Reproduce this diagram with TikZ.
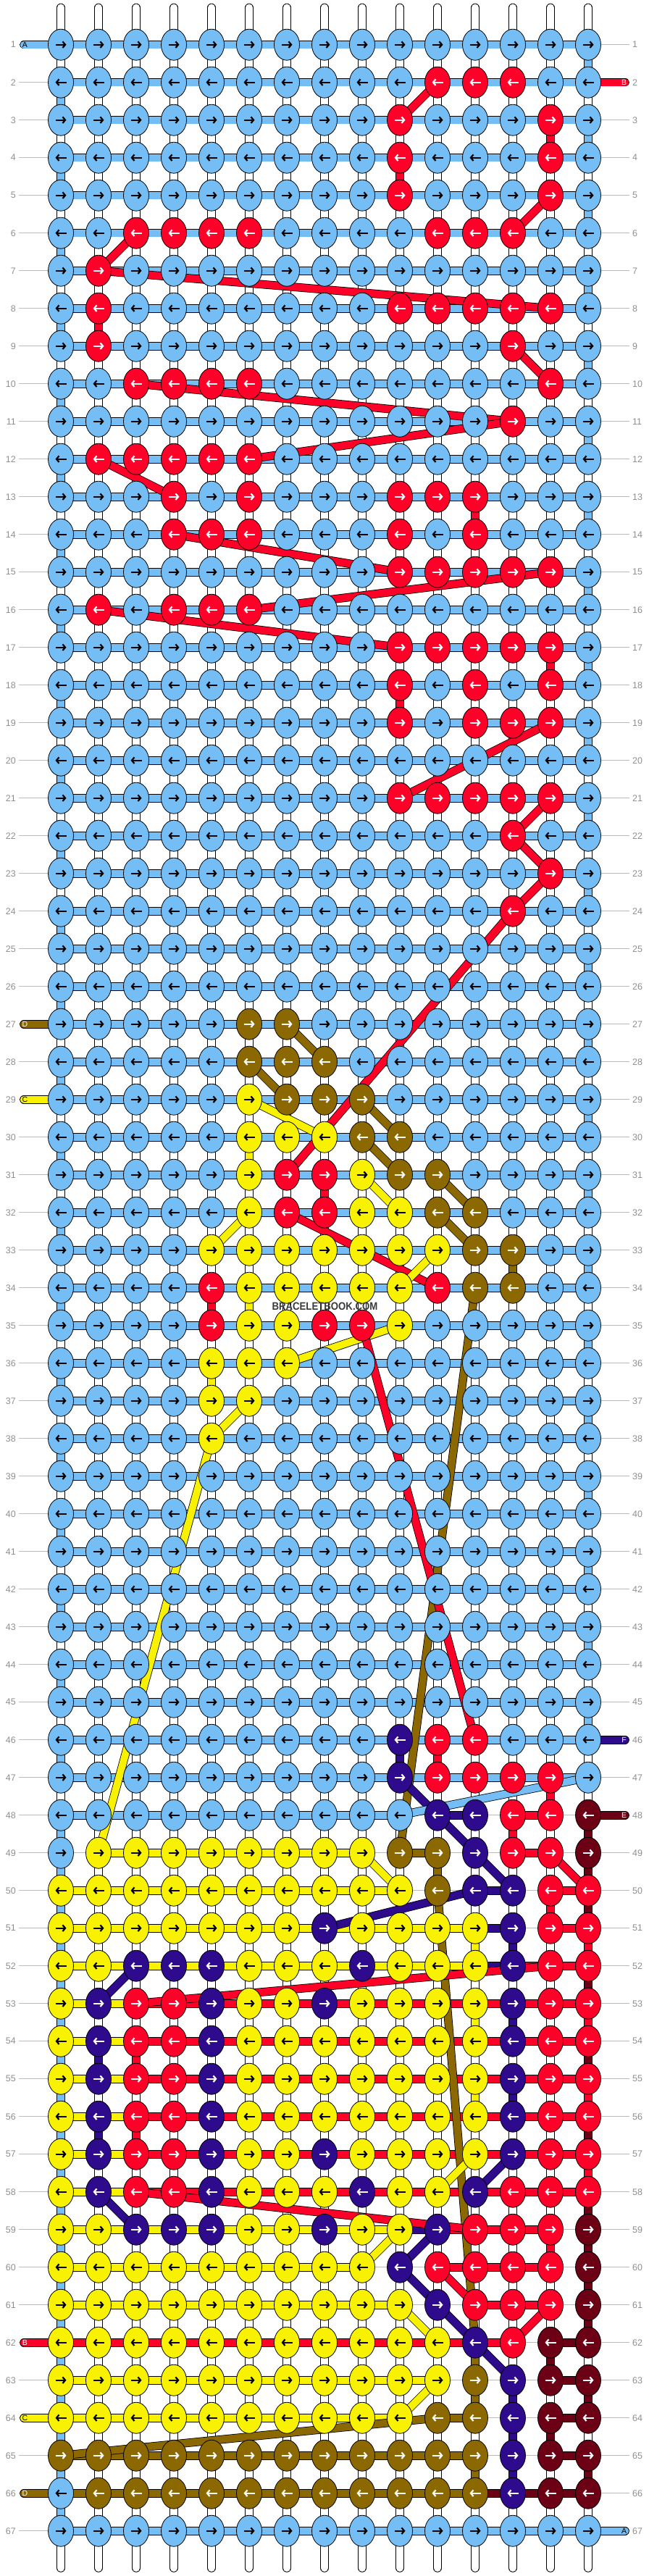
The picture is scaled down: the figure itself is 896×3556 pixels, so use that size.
\documentclass[tikz,border=0pt]{standalone}
\usepackage{fontspec}
\setmainfont{Liberation Sans}
\newfontfamily\markfont[FakeStretch=0.88]{Liberation Sans}
\usetikzlibrary{arrows.meta,shapes.geometric}

% thread colours
\definecolor{kL}{HTML}{74BEF5}
\definecolor{kR}{HTML}{FF0028}
\definecolor{kN}{HTML}{8C6800}
\definecolor{kY}{HTML}{F8F200}
\definecolor{kP}{HTML}{2E0A8C}
\definecolor{kM}{HTML}{6C0014}
\definecolor{kW}{HTML}{FFFFFF}
% arrow colours on each knot colour
\colorlet{aL}{black}
\colorlet{aY}{black}
\colorlet{aR}{white}
\colorlet{aN}{white}
\colorlet{aP}{white}
\colorlet{aM}{white}
\definecolor{numgray}{HTML}{8F8F8F}
\definecolor{linegray}{HTML}{BBBBBB}
\definecolor{markgray}{HTML}{3A3A3A}

\pgfdeclarelayer{guide}
\pgfdeclarelayer{threads}
\pgfdeclarelayer{cross}
\pgfsetlayers{guide,threads,cross,main}

\tikzset{
  knot/.style={ellipse, draw=black, line width=0.8pt, minimum width=35pt, minimum height=43pt, inner sep=0pt},
  knotarrow/.style={-{Straight Barb[length=3.6pt,width=8.6pt]}, line width=2.2pt},
  strand/.style={draw=black, line width=0.8pt, double=#1, double distance=10pt},
  rowno/.style={font=\fontsize{12.5}{12.5}\selectfont, text=numgray, inner sep=0pt},
  tailtext/.style={font=\fontsize{10.5}{10.5}\selectfont, inner sep=0pt},
  guide/.style={draw=linegray, line width=1.2pt}
}

\newcount\kcol
\makeatletter
% one row of knots: row, colours
\newcommand\knotrow[2]{%
  \kcol=0\relax
  \edef\kseq{#2}%
  \expandafter\@tfor\expandafter\kch\expandafter:\expandafter=\kseq\do{%
    \advance\kcol by 1\relax
    \edef\kc{\the\kcol}%
    \node[knot, fill=k\kch] (k-#1-\kc) at ({84+52*(\kc-1)}, {61.7+52*(#1-1)}) {};
    \ifodd#1\relax
      \draw[knotarrow, color=a\kch] ([xshift=-7.5pt]k-#1-\kc.center) -- ([xshift=7.5pt]k-#1-\kc.center);
    \else
      \draw[knotarrow, color=a\kch] ([xshift=7.5pt]k-#1-\kc.center) -- ([xshift=-7.5pt]k-#1-\kc.center);
    \fi}}
% threads between neighbours in a row: row, colours (- for none)
\newcommand\knotbars[2]{%
  \kcol=0\relax
  \edef\kseq{#2}%
  \expandafter\@tfor\expandafter\kch\expandafter:\expandafter=\kseq\do{%
    \advance\kcol by 1\relax
    \edef\kc{\the\kcol}%
    \pgfmathtruncatemacro\kn{\kc+1}%
    \if\kch-\else
      \draw[strand=k\kch] (k-#1-\kc.center) -- (k-#1-\kn.center);
    \fi}}
% threads from a row down to the next one
\newcommand\knotlinks[2]{%
  \pgfmathtruncatemacro\rn{#1+1}%
  \kcol=0\relax
  \edef\kseq{#2}%
  \expandafter\@tfor\expandafter\kch\expandafter:\expandafter=\kseq\do{%
    \advance\kcol by 1\relax
    \edef\kc{\the\kcol}%
    \draw[strand=k\kch] (k-#1-\kc.center) -- (k-\rn-\kc.center);}}
\makeatother

\begin{document}
\begin{tikzpicture}[x=1pt, y=-1pt]
  \useasboundingbox (0,0) rectangle (896,3556);

  % Knots
  \foreach \r/\ks in {
    1/LLLLLLLLLLLLLLL, 2/LLLLLLLLLLRRRLL, 3/LLLLLLLLLRLLLRL, 4/LLLLLLLLLRLLLRL,
    5/LLLLLLLLLRLLLRL, 6/LLRRRRLLLLRRRLL, 7/LRLLLLLLLLLLLLL, 8/LRLLLLLLLRRRRRL,
    9/LRLLLLLLLLLLRLL, 10/LLRRRRLLLLLLLRL, 11/LLLLLLLLLLLLRLL, 12/LRRRRRLLLLLLLLL,
    13/LLLRLRLLLRRRLLL, 14/LLLRRRLLLRLRLLL, 15/LLLLLLLLLRRRRRL, 16/LRLRRRLLLLLLLLL,
    17/LLLLLLLLLRRRRRL, 18/LLLLLLLLLRLRLRL, 19/LLLLLLLLLRLRRRL, 20/LLLLLLLLLLLLLLL,
    21/LLLLLLLLLRRRRRL, 22/LLLLLLLLLLLLRLL, 23/LLLLLLLLLLLLLRL, 24/LLLLLLLLLLLLRLL,
    25/LLLLLLLLLLLLLLL, 26/LLLLLLLLLLLLLLL, 27/LLLLLNNLLLLLLLL, 28/LLLLLNNNLLLLLLL,
    29/LLLLLYNNNLLLLLL, 30/LLLLLYYYNNLLLLL, 31/LLLLLYRRYNNLLLL, 32/LLLLLYRRYYNNLLL,
    33/LLLLYYYYYYYNNLL, 34/LLLLRYYYYYRNNLL, 35/LLLLRYYRRYLLLLL, 36/LLLLYYYLLLLLLLL,
    37/LLLLYYLLLLLLLLL, 38/LLLLYLLLLLLLLLL, 39/LLLLLLLLLLLLLLL, 40/LLLLLLLLLLLLLLL,
    41/LLLLLLLLLLLLLLL, 42/LLLLLLLLLLLLLLL, 43/LLLLLLLLLLLLLLL, 44/LLLLLLLLLLLLLLL,
    45/LLLLLLLLLLLLLLL, 46/LLLLLLLLLPRRLLL, 47/LLLLLLLLLPRRRRL, 48/LLLLLLLLLLPPRRM,
    49/LYYYYYYYYNNPRRM, 50/YYYYYYYYYYNPPRR, 51/YYYYYYYPYYYYPRR, 52/YYPPPYYYPYYYPRR,
    53/YPRRPYYPYYYYPRR, 54/YPRRPYYYYYYYPRR, 55/YPRRPYYYYYYYPRR, 56/YPRRPYYYYYYYPRR,
    57/YPRRPYYPYYYYPRR, 58/YPRRPYYYPYYPRRR, 59/YYPPPYYPYYPRRRM, 60/YYYYYYYYYPRRRRM,
    61/YYYYYYYYYYPRRRM, 62/YYYYYYYYYYYPRMM, 63/YYYYYYYYYYYNPMM, 64/YYYYYYYYYYNNPMM,
    65/NNNNNNNNNNNNPMM, 66/LNNNNNNNNNNNPMM, 67/LLLLLLLLLLLLLLL} {
    \knotrow{\r}{\ks}
  }

  \node[font=\markfont\bfseries\fontsize{15}{15}\selectfont, text=markgray, inner sep=0pt] (mark) at (448.5,1803.5) {BRACELETBOOK.COM};

  % Row numbers and guide lines
  \begin{pgfonlayer}{guide}
    \foreach \r in {1,...,67} {
      \node[rowno, anchor=east] (ln-\r) at (22, {61.7+52*(\r-1)}) {\r};
      \node[rowno, anchor=west] (rn-\r) at (873, {61.7+52*(\r-1)}) {\r};
      \draw[guide] ([xshift=4pt]ln-\r.east) -- ([xshift=-4pt]rn-\r.west);
    }
  \end{pgfonlayer}

  \begin{pgfonlayer}{threads}
    % Loose ends at top and bottom
    \foreach \c in {1,...,15} {
      \coordinate (top-\c) at ({84+52*(\c-1)}, 10.5);
      \coordinate (bot-\c) at ({84+52*(\c-1)}, 3545);
      \draw[strand=white, line cap=round] (top-\c) -- (k-1-\c.center);
      \draw[strand=white, line cap=round] (k-67-\c.center) -- (bot-\c);
    }

    % Threads along the rows
    \foreach \r in {1,...,47} {
      \knotbars{\r}{LLLLLLLLLLLLLL}
    }
    \foreach \r/\ks in {
      48/LLLLLLLLL-P-R-, 49/-YYYYYYY-N--R-, 50/YYYYYYYYY--P-R, 51/YYYYYYYYYYYP-R,
      52/YYYYYYYYYYYPRR, 53/YYRRRRRRRRRRRR, 54/YYRRRRRRRRRRRR, 55/YYRRRRRRRRRRRR,
      56/YYRRRRRRRRRRRR, 57/YYRRRRRRRRRRRR, 58/YYRRRRRRRRRRRR, 59/YYYYYYYYYPRRR-,
      60/YYYYYYYY--RRR-, 61/YYYYYYYYY--RR-, 62/RRRRRRRRRRRR-M, 63/YYYYYYYYYY---M,
      64/YYYYYYYYY-N--M, 65/NNNNNNNNNNN--M, 66/NNNNNNNNNNNMMM, 67/LLLLLLLLLLLLLL} {
      \knotbars{\r}{\ks}
    }

    % Threads between the rows
    \foreach \r/\ks in {
      1/WWWWWWWWWWWWWWL, 2/LWWWWWWWWWWWWWW, 3/WWWWWWWWWWWWWRL, 4/LWWWWWWWWRWWWWW,
      5/WWWWWWWWWWWWWWL, 6/LWWWWWWWWWWWWWW, 7/WWWWWWWWWWWWWWL, 8/LRWWWWWWWWWWWWW,
      9/WWWWWWWWWWWWWWL, 10/LWWWWWWWWWWWWWW, 11/WWWWWWWWWWWWWWL, 12/LWWWWWWWWWWWWWW,
      13/WWWWWWWWWWWRWWL, 14/LWWWWWWWWWWWWWW, 15/WWWWWWWWWWWWWWL, 16/LWWWWWWWWWWWWWW,
      17/WWWWWWWWWWWWWRL, 18/LWWWWWWWWRWWWWW, 19/WWWWWWWWWWWWWWL, 20/LWWWWWWWWWWWWWW,
      21/WWWWWWWWWWWWWWL, 22/LWWWWWWWWWWWWWW, 23/WWWWWWWWWWWWWWL, 24/LWWWWWWWWWWWWWW,
      25/WWWWWWWWWWWWWWL, 26/LWWWWWWWWWWWWWW, 27/WWWWWWWWWWWWWWL, 28/LWWWWWWWWWWWWWW,
      29/WWWWWWWWWWWWWWL, 30/LWWWWYWWWWWWWWW, 31/WWWWWWWRWWWWWWL, 32/LWWWWWWWWWWWWWW,
      33/WWWWWWWWWWWWNWL, 34/LWWWRYWWWWWWWWW, 35/WWWWWWWWWWWWWWL, 36/LWWWYWWWWWWWWWW,
      37/WWWWWWWWWWWWWWL, 38/LWWWWWWWWWWWWWW, 39/WWWWWWWWWWWWWWL, 40/LWWWWWWWWWWWWWW,
      41/WWWWWWWWWWWWWWL, 42/LWWWWWWWWWWWWWW, 43/WWWWWWWWWWWWWWL, 44/LWWWWWWWWWWWWWW,
      45/WWWWWWWWWWWWWWL, 46/LWWWWWWWWPRWWWW, 47/WWWWWWWWWWWWWRW, 48/LWWWWWWWWWWWRWM,
      49/LWWWWWWWWWNWWWM, 50/LWWWWWWWWWWWWRM, 51/LWWWWWWWWWWYPWR, 52/LWWWWWWWWWWWWWM,
      53/LWWWWWWWWWWYPWR, 54/LPRWWWWWWWWWWWM, 55/LWWWWWWWWWWYPWR, 56/LPRWWWWWWWWWWWM,
      57/LWWWWWWWWWWWWWR, 58/LWWWWWWWWWWWWWM, 59/LWWWWWWWWWWWWRM, 60/LWWWWWWWWWWWWWM,
      61/LWWWWWWWWWWWWWM, 62/LWWWWWWWWWWNWMW, 63/LWWWWWWWWWWNPWM, 64/LWWWWWWWWWWWPMW,
      65/LWWWWWWWWWWNPWM, 66/LWWWWWWWWWWWWWW} {
      \knotlinks{\r}{\ks}
    }

    % Thread ends with their letters
    \foreach \r/\tc/\tn/\tx in {1/L/A/black, 27/N/D/white, 29/Y/C/black, 62/R/B/white, 64/Y/C/black, 66/N/D/white} {
      \coordinate (tl-\r) at (33, {61.7+52*(\r-1)});
      \draw[strand=k\tc, line cap=round] (tl-\r) -- (k-\r-1.center);
      \node[tailtext, text=\tx] (tlab-\r) at ([xshift=1.5pt]tl-\r) {\tn};
    }
    \foreach \r/\tc/\tn/\tx in {2/R/B/white, 46/P/F/white, 48/M/E/white, 67/L/A/black} {
      \coordinate (tr-\r) at (863, {61.7+52*(\r-1)});
      \draw[strand=k\tc, line cap=round] (k-\r-15.center) -- (tr-\r);
      \node[tailtext, text=\tx] (trab-\r) at ([xshift=-1.5pt]tr-\r) {\tn};
    }
  \end{pgfonlayer}

  % Threads carried behind the knots
  \begin{pgfonlayer}{cross}
    \foreach \ra/\ca/\rb/\cb/\tc in {
      2/11/3/10/R, 5/14/6/13/R, 6/3/7/2/R, 7/2/8/14/R, 9/13/10/14/R,
      10/3/11/13/R, 11/13/12/6/R, 12/2/13/4/R, 14/4/15/10/R, 15/14/16/6/R,
      16/2/17/10/R, 19/14/21/10/R, 21/14/22/13/R, 22/13/23/14/R, 23/14/24/13/R,
      24/13/31/7/R, 27/7/28/8/N, 28/6/29/7/N, 29/6/30/8/Y, 29/9/30/10/N,
      30/9/31/10/N, 31/9/32/10/Y, 31/11/32/12/N, 32/6/33/5/Y, 32/7/34/11/R,
      32/11/33/12/N, 33/11/34/10/Y, 34/12/49/10/N, 35/10/36/7/Y, 35/9/46/12/R,
      37/6/38/5/Y, 38/5/49/2/Y, 47/10/48/11/P, 47/15/48/10/L, 48/11/50/13/P,
      49/9/50/10/Y, 49/14/50/15/R, 50/12/51/8/P, 50/11/62/12/N, 52/14/53/3/R,
      52/3/53/2/P, 57/12/58/11/Y, 57/13/58/12/P, 58/3/59/12/R, 58/2/59/3/P,
      59/10/60/9/Y, 59/11/60/10/P, 60/10/61/11/P, 60/11/61/12/R, 61/10/62/11/Y,
      61/11/62/12/P, 61/14/62/13/R, 62/12/63/13/P, 63/11/64/10/Y, 64/11/65/1/N} {
      \draw[strand=k\tc] (k-\ra-\ca.center) -- (k-\rb-\cb.center);
    }
  \end{pgfonlayer}
\end{tikzpicture}
\end{document}
